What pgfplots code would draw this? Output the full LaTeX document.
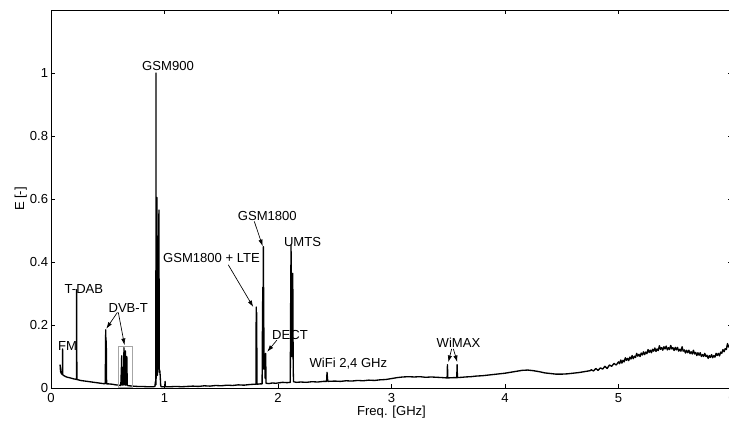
\documentclass[border=0pt]{standalone}
\usepackage{fontspec}
\setmainfont{Liberation Sans}
\usepackage{pgfplots}
\pgfplotsset{compat=1.18}
\usetikzlibrary{arrows.meta,calc}
\begin{document}
\begin{tikzpicture}
\begin{axis}[
  scale only axis,
  width=510.75pt, height=283.5pt,
  xmin=0, xmax=6, ymin=0, ymax=1.2,
  xtick={0,1,2,3,4,5,6},
  ytick={0,0.2,0.4,0.6,0.8,1},
  yticklabels={0,0.2,0.4,0.6,0.8,1},
  tick align=inside, tick pos=both,
  major tick length=3pt,
  axis line style={line width=0.6pt},
  every tick/.style={black, line width=0.5pt},
  font=\fontsize{9.8}{11}\selectfont,
  /pgf/number format/assume math mode=true,
  xticklabel style={anchor=base, yshift=-10.9pt},
  yticklabel style={anchor=east, inner sep=0pt, xshift=-2pt},
  xlabel={Freq. [GHz]}, ylabel={E [-]},
  xlabel style={at={(axis description cs:0.5,-0.0725)}, anchor=base},
  ylabel style={at={(axis description cs:-0.0396,0.5)}, anchor=base},
  clip=true,
]
\coordinate (BL) at (rel axis cs:0,0);
\coordinate (TR) at (rel axis cs:1,1);
\addplot[black, line width=1pt, line join=round] coordinates {
(0.080,0.074) (0.082,0.062) (0.085,0.052) (0.088,0.048) (0.092,0.046) (0.096,0.044) (0.100,0.043)
(0.102,0.124) (0.104,0.042) (0.110,0.040) (0.120,0.038) (0.130,0.036) (0.145,0.034) (0.160,0.033)
(0.180,0.031) (0.200,0.029) (0.215,0.028) (0.224,0.027) (0.226,0.312) (0.228,0.027) (0.240,0.026)
(0.260,0.024) (0.280,0.023) (0.300,0.022) (0.320,0.021) (0.340,0.020) (0.360,0.019) (0.380,0.018)
(0.400,0.017) (0.420,0.016) (0.440,0.015) (0.460,0.014) (0.478,0.014) (0.482,0.185) (0.485,0.120)
(0.487,0.150) (0.490,0.013) (0.510,0.013) (0.540,0.012) (0.570,0.010) (0.600,0.009) (0.615,0.008)
(0.620,0.060) (0.623,0.102) (0.626,0.010) (0.630,0.065) (0.634,0.009) (0.640,0.050) (0.643,0.128)
(0.646,0.010) (0.650,0.085) (0.655,0.118) (0.659,0.009) (0.664,0.060) (0.668,0.100) (0.672,0.008)
(0.690,0.007) (0.720,0.006) (0.760,0.005) (0.800,0.005) (0.850,0.004) (0.900,0.004) (0.915,0.005)
(0.920,0.020) (0.924,0.010) (0.925,1.000) (0.927,0.030) (0.931,0.300) (0.934,0.605) (0.937,0.040)
(0.940,0.350) (0.944,0.060) (0.948,0.400) (0.951,0.565) (0.954,0.050) (0.958,0.057) (0.962,0.040)
(0.966,0.010) (0.970,0.004) (0.990,0.004) (1.003,0.004) (1.005,0.021) (1.008,0.004) (1.050,0.004)
(1.100,0.005) (1.150,0.004) (1.200,0.005) (1.250,0.006) (1.300,0.005) (1.350,0.007) (1.400,0.006)
(1.450,0.008) (1.500,0.007) (1.550,0.009) (1.600,0.008) (1.650,0.010) (1.700,0.009) (1.750,0.011)
(1.790,0.012) (1.806,0.012) (1.808,0.257) (1.810,0.100) (1.812,0.240) (1.815,0.012) (1.840,0.013)
(1.860,0.013) (1.863,0.200) (1.866,0.320) (1.868,0.060) (1.871,0.449) (1.874,0.250) (1.877,0.100)
(1.880,0.060) (1.884,0.100) (1.887,0.030) (1.891,0.110) (1.895,0.015) (1.920,0.014) (1.950,0.016)
(1.980,0.015) (2.000,0.016) (2.040,0.018) (2.080,0.017) (2.108,0.018) (2.112,0.300) (2.115,0.454)
(2.118,0.200) (2.122,0.100) (2.126,0.300) (2.130,0.364) (2.134,0.060) (2.137,0.020) (2.160,0.018)
(2.200,0.019) (2.250,0.018) (2.300,0.020) (2.350,0.019) (2.400,0.021) (2.428,0.021) (2.432,0.050)
(2.436,0.030) (2.440,0.021) (2.500,0.022) (2.550,0.021) (2.600,0.023) (2.650,0.022) (2.700,0.024)
(2.750,0.023) (2.800,0.025) (2.850,0.024) (2.900,0.026) (2.950,0.027) (3.000,0.030) (3.050,0.033)
(3.100,0.035) (3.150,0.036) (3.200,0.035) (3.250,0.036) (3.300,0.034) (3.350,0.035) (3.400,0.034)
(3.450,0.033) (3.490,0.032) (3.493,0.074) (3.496,0.032) (3.550,0.033) (3.575,0.033) (3.578,0.074)
(3.581,0.033) (3.620,0.034) (3.650,0.035) (3.700,0.036) (3.750,0.038) (3.800,0.039) (3.850,0.041)
(3.900,0.043) (3.950,0.045) (4.000,0.047) (4.050,0.050) (4.100,0.053) (4.150,0.056) (4.200,0.057)
(4.250,0.055) (4.300,0.052) (4.350,0.048) (4.400,0.046) (4.450,0.044) (4.500,0.044) (4.550,0.045)
(4.600,0.047) (4.650,0.049) (4.700,0.052) (4.750,0.055)
(4.76,0.058) (4.78,0.054) (4.80,0.062) (4.82,0.056) (4.84,0.064) (4.86,0.060) (4.88,0.069) (4.90,0.062)
(4.92,0.073) (4.94,0.069) (4.96,0.078) (4.98,0.073) (5.00,0.083)
(5.01,0.077) (5.02,0.089) (5.03,0.079) (5.04,0.088) (5.05,0.083) (5.06,0.096) (5.07,0.088) (5.08,0.094) (5.09,0.087) (5.10,0.098)
(5.11,0.092) (5.12,0.103) (5.13,0.093) (5.14,0.101) (5.15,0.097) (5.16,0.110) (5.17,0.101) (5.18,0.107) (5.19,0.100) (5.20,0.111)
(5.21,0.105) (5.22,0.115) (5.23,0.106) (5.24,0.114) (5.25,0.109) (5.26,0.122) (5.27,0.113) (5.28,0.120) (5.29,0.112) (5.30,0.123)
(5.31,0.117) (5.32,0.127) (5.33,0.116) (5.34,0.124) (5.35,0.119) (5.36,0.134) (5.37,0.123) (5.38,0.128) (5.39,0.120) (5.40,0.131)
(5.41,0.124) (5.42,0.133) (5.43,0.121) (5.44,0.128) (5.45,0.122) (5.46,0.135) (5.47,0.124) (5.48,0.128) (5.49,0.119) (5.50,0.129)
(5.51,0.121) (5.52,0.129) (5.53,0.117) (5.54,0.123) (5.55,0.117) (5.56,0.131) (5.57,0.117) (5.58,0.121) (5.59,0.111) (5.60,0.120)
(5.61,0.112) (5.62,0.120) (5.63,0.109) (5.64,0.115) (5.65,0.108) (5.66,0.120) (5.67,0.108) (5.68,0.113) (5.69,0.103) (5.70,0.112)
(5.71,0.104) (5.72,0.112) (5.73,0.100) (5.74,0.106) (5.75,0.100) (5.76,0.110) (5.77,0.100) (5.78,0.104) (5.79,0.094) (5.80,0.103)
(5.81,0.097) (5.82,0.106) (5.83,0.096) (5.84,0.103) (5.85,0.098) (5.86,0.110) (5.87,0.103) (5.88,0.110) (5.89,0.102) (5.90,0.114)
(5.91,0.110) (5.92,0.122) (5.93,0.115) (5.94,0.125) (5.95,0.122) (5.96,0.141) (5.97,0.130) (5.98,0.137) (5.99,0.133) (6.00,0.143)
};
% DVB-T box
\draw[gray!70, line width=0.5pt] (axis cs:0.593,0.002) rectangle (axis cs:0.72,0.132);
% labels
\node[inner sep=0pt] at (axis cs:0.145,0.132) {FM};
\node[inner sep=0pt] at (axis cs:0.29,0.315) {T-DAB};
\node[inner sep=0pt] at (axis cs:0.68,0.254) {DVB-T};
\node[inner sep=0pt] at (axis cs:1.031,1.023) {GSM900};
\node[inner sep=0pt] at (axis cs:1.414,0.413) {GSM1800 + LTE};
\node[inner sep=0pt] at (axis cs:1.906,0.545) {GSM1800};
\node[inner sep=0pt] at (axis cs:2.216,0.465) {UMTS};
\node[inner sep=0pt] at (axis cs:2.106,0.167) {DECT};
\node[inner sep=0pt] at (axis cs:2.62,0.079) {WiFi 2,4 GHz};
\node[inner sep=0pt] at (axis cs:3.59,0.143) {WiMAX};
% arrows
\tikzset{arr/.style={-{Latex[length=5pt,width=3.2pt]}, line width=0.5pt}}
\draw[arr] (axis cs:0.585,0.240) -- (axis cs:0.487,0.188);
\draw[arr] (axis cs:0.593,0.240) -- (axis cs:0.648,0.136);
\draw[arr] (axis cs:1.562,0.391) -- (axis cs:1.782,0.257);
\draw[arr] (axis cs:1.791,0.529) -- (axis cs:1.865,0.450);
\draw[arr] (axis cs:1.990,0.152) -- (axis cs:1.905,0.115);
\draw[arr] (axis cs:3.53,0.124) -- (axis cs:3.50,0.082);
\draw[arr] (axis cs:3.545,0.124) -- (axis cs:3.58,0.082);
\end{axis}
\pgfresetboundingbox
\path[use as bounding box] ($(BL)+(-38.25pt,-25.5pt)$) rectangle ($(TR)+(-2.25pt,7.5pt)$);
\end{tikzpicture}
\end{document}
